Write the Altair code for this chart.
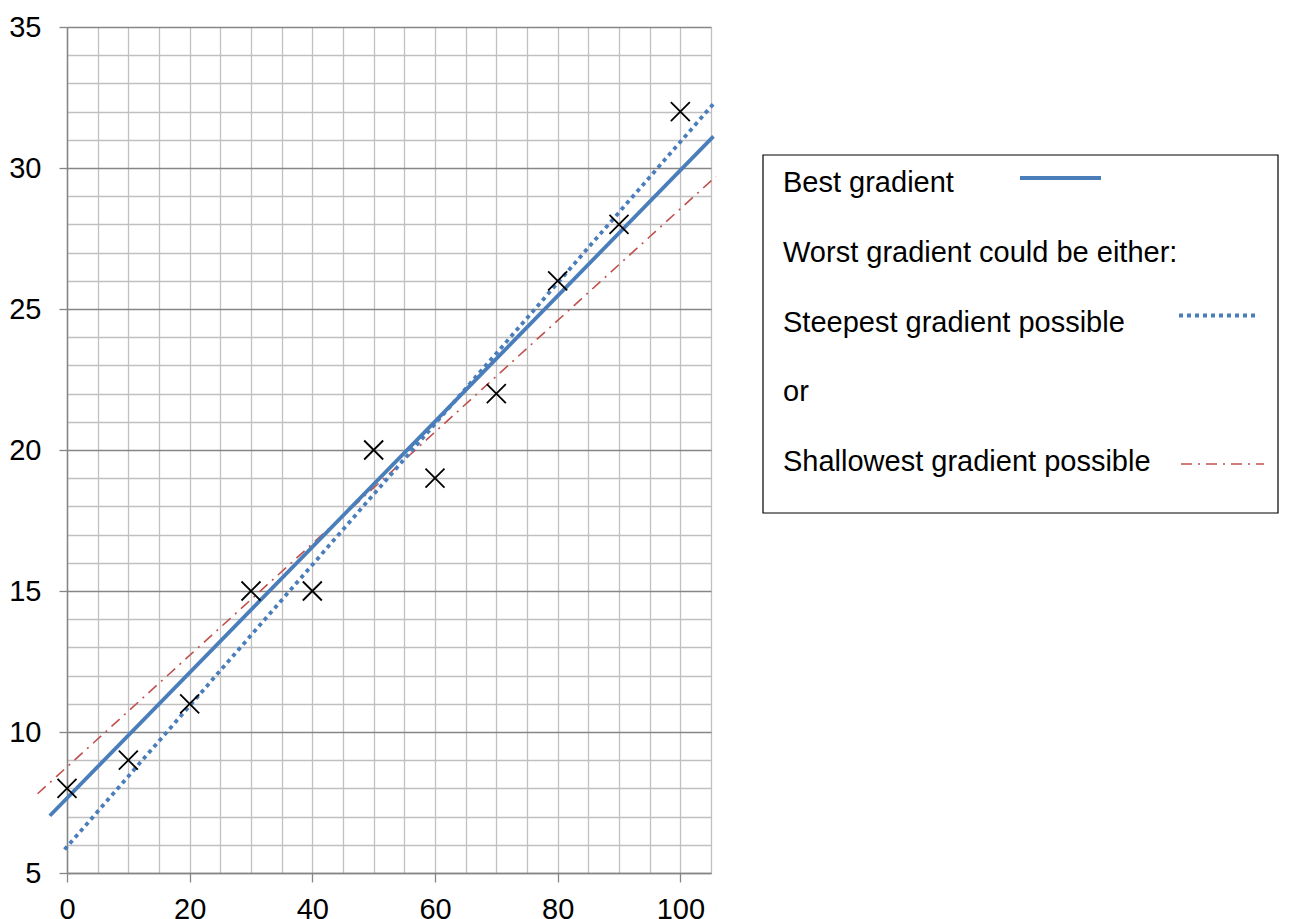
import altair as alt
import pandas as pd

# measured data points
x_vals = [0, 10, 20, 30, 40, 50, 60, 70, 80, 90, 100]
y_vals = [8, 9, 11, 15, 15, 20, 19, 22, 26, 28, 32]

# gradient lines (end points)
line_names = ["Best gradient", "Steepest gradient possible", "Shallowest gradient possible"]
line_x_start = [-2.8, -0.4, -4.8]
line_x_end = [105.4, 105.7, 105.8]
line_y_start = [7.03, 5.83, 7.81]
line_y_end = [31.12, 32.35, 29.70]

# axis ticks / grid
x_ticks = list(range(0, 106, 5))
y_ticks = list(range(5, 36, 1))

# legend rows
legend_labels = [
    "Best gradient",
    "Worst gradient could be either:",
    "Steepest gradient possible",
    "or",
    "Shallowest gradient possible",
]
legend_rows = [0, 1, 2, 3, 4]

BLUE = "#4A7EBB"
RED = "#C0504D"
MAJOR = "#868686"
MINOR = "#c0c0c0"
FONT = "Liberation Sans"
FS = 29

points_df = pd.DataFrame({"x": x_vals, "y": y_vals})
rows = []
for n, xs, xe, ys, ye in zip(line_names, line_x_start, line_x_end, line_y_start, line_y_end):
    rows.append({"name": n, "x": xs, "y": ys, "o": 0})
    rows.append({"name": n, "x": xe, "y": ye, "o": 1})
lines_df = pd.DataFrame(rows)
legend_df = pd.DataFrame({"label": legend_labels, "row": legend_rows})

x_scale = alt.Scale(domain=[0, 105], nice=False, zero=False)
y_scale = alt.Scale(domain=[5, 35], nice=False, zero=False)

x_axis = alt.Axis(
    values=x_ticks,
    tickCount=500,
    format="d",
    labelExpr="datum.value % 20 === 0 ? datum.label : ''",
    labelOverlap=False,
    labelFlush=False,
    labelFont=FONT,
    labelFontSize=FS,
    labelColor="black",
    labelPadding=13,
    tickSize=9,
    tickColor=MAJOR,
    tickWidth=1.3,
    tickOpacity={"condition": {"test": "datum.value % 20 === 0", "value": 1}, "value": 0},
    grid=True,
    gridColor=MINOR,
    gridWidth=1.3,
    domainColor=MAJOR,
    domainWidth=1.5,
    title=None,
)
y_axis = alt.Axis(
    values=y_ticks,
    tickCount=500,
    format="d",
    labelExpr="datum.value % 5 === 0 ? datum.label : ''",
    labelOverlap=False,
    labelFlush=False,
    labelFont=FONT,
    labelFontSize=FS,
    labelColor="black",
    labelPadding=18,
    tickSize=8,
    tickColor=MAJOR,
    tickWidth=1.3,
    tickOpacity={"condition": {"test": "datum.value % 5 === 0", "value": 1}, "value": 0},
    grid=True,
    gridColor={"condition": {"test": "datum.value % 5 === 0", "value": MAJOR}, "value": MINOR},
    gridWidth=1.3,
    domainColor=MAJOR,
    domainWidth=1.5,
    title=None,
)

grid_layer = alt.Chart(points_df).mark_point(opacity=0).encode(
    x=alt.X("x:Q", scale=x_scale, axis=x_axis),
    y=alt.Y("y:Q", scale=y_scale, axis=y_axis),
)

def line_layer(name, **style):
    return (
        alt.Chart(lines_df)
        .transform_filter(alt.datum.name == name)
        .mark_line(clip=False, **style)
        .encode(
            x=alt.X("x:Q", scale=x_scale),
            y=alt.Y("y:Q", scale=y_scale),
            order="o:Q",
        )
    )

shallow = line_layer(line_names[2], color=RED, strokeWidth=1.6, strokeDash=[11, 6, 2, 6])
steep = line_layer(line_names[1], color=BLUE, strokeWidth=3.8, strokeDash=[4, 4])
best = line_layer(line_names[0], color=BLUE, strokeWidth=3.8)

crosses = alt.Chart(points_df).mark_point(
    shape="M-1,-1L1,1M-1,1L1,-1",
    size=361,
    filled=False,
    color="black",
    strokeWidth=1.8,
    opacity=1,
).encode(
    x=alt.X("x:Q", scale=x_scale),
    y=alt.Y("y:Q", scale=y_scale),
)

main = alt.layer(grid_layer, shallow, steep, best, crosses).properties(
    width=644,
    height=846,
    view=alt.ViewBackground(strokeOpacity=0),
)

# legend panel: its plot area runs from the main plot's top down to the box bottom
LEG_W = 515
LEG_H = 486
BOX_TOP = 128
ly = alt.Y(
    "row:Q",
    scale=alt.Scale(domain=[-2.237, 4.731], reverse=True, nice=False, zero=False),
    axis=None,
)

legend_box = alt.Chart(legend_df).transform_filter("datum.row === 0").mark_rect(
    fill="white", stroke="black", strokeWidth=1.2
).encode(
    x=alt.value(0), x2=alt.value(LEG_W), y=alt.value(BOX_TOP), y2=alt.value(LEG_H)
)

legend_text = alt.Chart(legend_df).mark_text(
    align="left", baseline="middle", fontSize=FS, font=FONT, color="black"
).encode(x=alt.value(20), y=ly, text="label:N")

sample_best = (
    alt.Chart(legend_df)
    .transform_filter("datum.row === 0")
    .mark_rule(color=BLUE, strokeWidth=3.8, yOffset=-5)
    .encode(x=alt.value(257), x2=alt.value(338), y=ly)
)
sample_steep = (
    alt.Chart(legend_df)
    .transform_filter("datum.row === 2")
    .mark_rule(color=BLUE, strokeWidth=3.8, strokeDash=[4, 4], yOffset=-7)
    .encode(x=alt.value(416), x2=alt.value(496), y=ly)
)
sample_shallow = (
    alt.Chart(legend_df)
    .transform_filter("datum.row === 4")
    .mark_rule(color=RED, strokeWidth=1.6, strokeDash=[11, 6, 2, 6], yOffset=2)
    .encode(x=alt.value(418), x2=alt.value(501), y=ly)
)

legend = alt.layer(legend_box, legend_text, sample_best, sample_steep, sample_shallow).properties(
    width=LEG_W,
    height=LEG_H,
    view=alt.ViewBackground(strokeOpacity=0),
)

chart = alt.hconcat(main, legend, spacing=39).properties(
    padding={"left": 0, "top": 5, "right": 0, "bottom": 0}
).configure(background="white")

chart.save("out.html", embed_options={"renderer": "svg", "actions": False})
